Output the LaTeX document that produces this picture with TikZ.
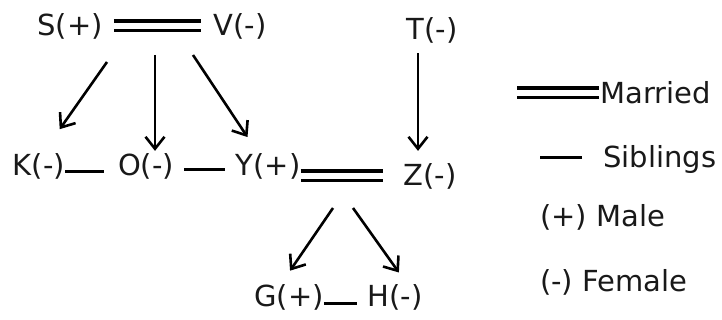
\documentclass[tikz,border=0pt]{standalone}
\usepackage{fontspec}
\setmainfont{DejaVu Sans}
\usetikzlibrary{arrows.meta}

\begin{document}
\begin{tikzpicture}[
  x=1pt, y=-1pt,
  person/.style={inner sep=0pt,text=black!90,font=\fontsize{29}{33}\selectfont},
  lgd/.style={person,anchor=west},
  married/.style={double,double distance=6.6pt,line width=3.2pt},
  sib/.style={line width=3pt},
  arr/.style={line width=2.6pt,-{Straight Barb[length=12pt,width=19pt]}}
]
\useasboundingbox (0,0) rectangle (722,320);
%% ─── Family tree ─────────────────────────────────────────────────────────────
\node[person] (S) at ( 70, 26) {S(+)};
\node[person] (V) at (240, 26) {V(-)};
\node[person] (T) at (432, 30) {T(-)};
\node[person] (K) at ( 39,166) {K(-)};
\node[person] (O) at (146,166) {O(-)};
\node[person] (Y) at (268,166) {Y(+)};
\node[person] (Z) at (430,176) {Z(-)};
\node[person] (G) at (289,297) {G(+)};
\node[person] (H) at (395,297) {H(-)};
\draw[married,shorten <=11pt,shorten >=12pt] (S) -- (V);
\draw[married] (Y.east |- Z) -- ([xshift=-20pt]Z.west);
\coordinate (sv-k) at (107, 62);
\coordinate (sv-o) at (155, 55);
\coordinate (sv-y) at (193, 55);
\coordinate (yz-g) at (333,208);
\coordinate (yz-h) at (353,208);
\draw[arr,shorten >=29pt] (sv-k) -- ([xshift=4pt]K.north);
\draw[arr,shorten >=2pt] (sv-o) -- (sv-o |- O.north);
\draw[arr,shorten >=19pt] (sv-y) -- ([xshift=-10pt]Y.north);
\draw[arr,shorten <=10pt,shorten >=12pt] ([xshift=-14pt]T.south) -- ([xshift=-12pt]Z.north);
\draw[arr,shorten >=16pt] (yz-g) -- ([xshift=-8pt]G.north);
\draw[arr,shorten >=14pt] (yz-h) -- ([xshift=12pt]H.north);
\draw[sib,shorten >=14pt] ([yshift=-6pt]K.east) -- ([yshift=-6pt]O.west);
\draw[sib,shorten <=10pt,shorten >=10pt] ([yshift=-4pt]O.east) -- ([yshift=-4pt]Y.west);
\draw[sib,shorten >=10pt] ([yshift=-6pt]G.east) -- ([yshift=-6pt]H.west);
%% ─── Legend ──────────────────────────────────────────────────────────────────
\node[lgd] (l-mar) at (600, 93) {Married};
\node[lgd] (l-sib) at (603,160) {Siblings};
\node[lgd] (l-male) at (540,217) {(+) Male};
\node[lgd] (l-fem) at (540,282) {(-) Female};
\draw[married] ([xshift=-1pt]l-mar.west) -- ++(-82,0);
\draw[sib] ([xshift=-21pt,yshift=2pt]l-sib.west) -- ++(-42,0);
\end{tikzpicture}
\end{document}
